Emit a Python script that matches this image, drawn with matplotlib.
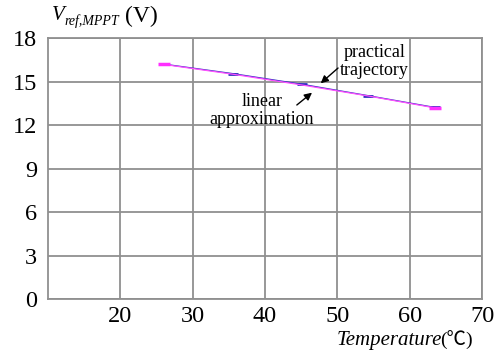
import matplotlib
matplotlib.use("Agg")
import matplotlib.pyplot as plt

# MPPT reference voltage vs. panel temperature
practical_T = [26.0, 35.6, 45.1, 54.3, 63.5]
practical_V = [16.2, 15.52, 14.78, 14.02, 13.2]
linear_T = [26.0, 35.6, 45.1, 54.3, 63.5]
linear_V = [16.22, 15.56, 14.83, 14.04, 13.23]

x_ticks = [20, 30, 40, 50, 60, 70]
y_ticks = [0, 3, 6, 9, 12, 15, 18]

serif = ["Liberation Serif", "DejaVu Serif"]
plt.rcParams["font.family"] = serif

fig = plt.figure(figsize=(5.01, 3.55), dpi=100)
ax = fig.add_axes([48 / 501, 1 - 299.3 / 355, (482 - 48) / 501, (299.3 - 38.3) / 355])

grid_c = "#909090"
ax.set_xlim(10, 70)
ax.set_ylim(0, 18)
ax.set_xticks(x_ticks)
ax.set_yticks(y_ticks)
ax.grid(True, color=grid_c, linewidth=1.3)
ax.set_axisbelow(True)
for s in ax.spines.values():
    s.set_color(grid_c)
    s.set_linewidth(1.3)
ax.tick_params(length=0, labelsize=17.5, pad=8)
ax.tick_params(axis="x", pad=5)

ax.plot(linear_T, linear_V, color="#3030c0", linewidth=0.9,
        marker="_", markersize=7, markeredgewidth=2)
ax.plot(practical_T, practical_V, color="#ff50ff", linewidth=0.9)
ax.plot([practical_T[0], practical_T[-1]], [practical_V[0], practical_V[-1]],
        linestyle="none", marker="_", markersize=8, markeredgewidth=2.5,
        color="#ff30ff")

arrow = dict(arrowstyle="-|>", color="black", lw=1.0,
             shrinkA=0, shrinkB=0, mutation_scale=11)
ax.text(55.1, 16.4, "practical\ntrajectory", ha="center", va="center",
        fontsize=13, linespacing=1.05)
ax.annotate("", xy=(47.7, 14.9), xytext=(50.1, 15.95), arrowprops=arrow)
ax.text(39.6, 13.0, "linear\napproximation", ha="center", va="center",
        fontsize=13, linespacing=1.05)
ax.annotate("", xy=(46.5, 14.25), xytext=(44.4, 13.4), arrowprops=arrow)

# y axis title: V with subscript, then unit
fig.text(52 / 501, 1 - 16 / 355, "V", fontsize=15, style="italic",
         ha="left", va="center")
fig.text(64 / 501, 1 - 21 / 355, "ref,MPPT", fontsize=10, style="italic",
         ha="left", va="center")
fig.text(125 / 501, 1 - 16 / 355, "(V)", fontsize=17, ha="left", va="center")

# x axis title
fig.text(337 / 501, 1 - 340 / 355, "Temperature", fontsize=15, style="italic",
         ha="left", va="center")
fig.text(440 / 501, 1 - 340 / 355, "(℃)", fontsize=14, ha="left", va="center",
         family=["Liberation Serif", "Noto Sans CJK SC"])

fig.savefig("out.png", dpi=100)
